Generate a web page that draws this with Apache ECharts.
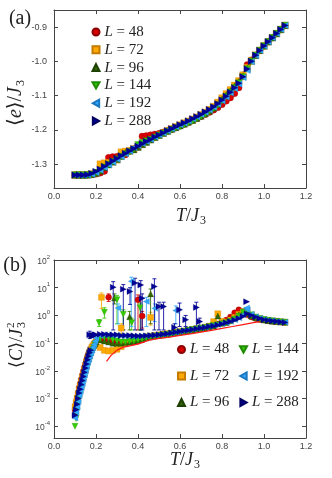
<!DOCTYPE html>
<html>
<head>
<meta charset="utf-8">
<script src="https://cdn.jsdelivr.net/npm/echarts@6/dist/echarts.min.js"></script>
<style>
html, body { margin: 0; padding: 0; background: #fff; }
#chart { width: 332px; height: 478px; }
</style>
</head>
<body>
<div id="chart"></div>
<script>
// temperatures T/J3 shared by every system size
const temps = [0.10,0.12,0.14,0.16,0.18,0.20,0.22,0.24,0.26,0.28,0.30,0.32,0.34,0.36,0.38,0.40,0.42,0.44,0.46,0.48,0.50,
  0.52,0.54,0.56,0.58,0.60,0.62,0.64,0.66,0.68,0.70,0.72,0.74,0.76,0.78,0.80,0.82,0.84,0.86,0.88,0.90,
  0.92,0.94,0.96,0.98,1.00,1.02,1.04,1.06,1.08,1.10];
// extra low-temperature points of (b), where C rises steeply
const lowTemps = [0.105,0.11,0.115,0.125,0.13,0.135,0.145,0.15,0.155,0.165,0.17,0.175,0.185,0.19,0.195];

const sizes = ['L = 48', 'L = 72', 'L = 96', 'L = 144', 'L = 192', 'L = 288'];

// (a) energy per site <e>/J3
const energy48 = [-1.332,-1.332,-1.332,-1.332,-1.331,-1.329,-1.326,-1.321,-1.281,-1.279,-1.278,-1.276,-1.273,-1.262,-1.256,-1.250,
  -1.219,-1.217,-1.215,-1.213,-1.211,-1.207,-1.203,-1.199,-1.194,-1.189,-1.184,-1.179,-1.173,-1.167,-1.161,-1.155,-1.149,
  -1.142,-1.135,-1.126,-1.116,-1.106,-1.094,-1.077,-1.040,-1.010,-0.996,-0.982,-0.968,-0.955,-0.943,-0.931,-0.919,-0.907,-0.895];
const energy72 = [-1.332,-1.332,-1.332,-1.331,-1.329,-1.326,-1.300,-1.297,-1.296,-1.293,-1.288,-1.265,-1.263,-1.261,-1.256,-1.249,
  -1.242,-1.235,-1.229,-1.222,-1.215,-1.209,-1.203,-1.197,-1.191,-1.186,-1.180,-1.175,-1.169,-1.163,-1.156,-1.149,-1.141,
  -1.132,-1.120,-1.107,-1.095,-1.083,-1.070,-1.057,-1.040,-1.018,-0.998,-0.982,-0.968,-0.955,-0.943,-0.931,-0.919,-0.907,-0.895];
const energy96 = [-1.332,-1.332,-1.332,-1.332,-1.330,-1.327,-1.320,-1.310,-1.302,-1.294,-1.286,-1.277,-1.266,-1.262,-1.258,-1.251,
  -1.243,-1.236,-1.229,-1.222,-1.216,-1.210,-1.204,-1.198,-1.193,-1.188,-1.183,-1.177,-1.172,-1.166,-1.160,-1.153,-1.145,
  -1.136,-1.125,-1.111,-1.098,-1.086,-1.073,-1.060,-1.043,-1.020,-0.999,-0.982,-0.968,-0.955,-0.943,-0.931,-0.919,-0.907,-0.895];
const energy144 = [-1.332,-1.332,-1.332,-1.332,-1.330,-1.325,-1.318,-1.309,-1.301,-1.293,-1.285,-1.278,-1.271,-1.264,-1.257,-1.244,
  -1.238,-1.233,-1.228,-1.222,-1.216,-1.210,-1.205,-1.200,-1.195,-1.190,-1.185,-1.180,-1.174,-1.168,-1.161,-1.154,-1.146,
  -1.138,-1.128,-1.116,-1.103,-1.090,-1.077,-1.063,-1.046,-1.022,-1.000,-0.982,-0.968,-0.955,-0.943,-0.931,-0.919,-0.907,-0.895];
const energy192 = [-1.333,-1.333,-1.333,-1.332,-1.330,-1.325,-1.318,-1.310,-1.302,-1.294,-1.286,-1.278,-1.270,-1.262,-1.252,-1.246,
  -1.240,-1.234,-1.228,-1.221,-1.215,-1.209,-1.203,-1.197,-1.191,-1.185,-1.180,-1.174,-1.168,-1.162,-1.155,-1.149,-1.142,
  -1.134,-1.125,-1.115,-1.104,-1.092,-1.079,-1.066,-1.047,-1.026,-1.001,-0.983,-0.968,-0.955,-0.943,-0.931,-0.919,-0.907,-0.895];
const energy288 = [-1.332,-1.332,-1.332,-1.331,-1.328,-1.322,-1.315,-1.307,-1.299,-1.291,-1.284,-1.276,-1.269,-1.262,-1.255,-1.248,
  -1.241,-1.234,-1.228,-1.221,-1.215,-1.209,-1.203,-1.197,-1.191,-1.185,-1.180,-1.174,-1.168,-1.162,-1.155,-1.148,-1.141,
  -1.133,-1.124,-1.113,-1.102,-1.090,-1.077,-1.064,-1.045,-1.022,-1.000,-0.982,-0.968,-0.955,-0.943,-0.931,-0.919,-0.907,-0.895];

// (b) specific heat <C>/J3^2 on temps
const heat48 = [4.0e-4,2.5e-3,1.0e-2,0.032,0.07,0.12,0.14,0.13,0.12,0.11,0.10,0.10,0.10,0.105,0.11,0.12,0.13,0.15,0.165,0.18,0.19,
  0.20,0.21,0.22,0.235,0.25,0.265,0.28,0.30,0.32,0.34,0.37,0.40,0.44,0.49,0.56,0.68,0.88,1.25,1.60,1.35,
  1.05,0.88,0.78,0.72,0.68,0.65,0.62,0.60,0.58,0.57];
const heat72 = [5.0e-4,2.2e-3,8.0e-3,0.03,0.07,0.11,0.07,0.055,0.052,0.055,0.06,0.075,0.095,0.115,0.13,0.145,0.16,0.17,0.18,0.19,0.20,
  0.21,0.22,0.23,0.245,0.26,0.275,0.29,0.31,0.33,0.35,0.375,0.41,0.60,1.15,0.62,0.58,0.68,0.85,1.10,1.35,
  1.25,1.00,0.85,0.76,0.70,0.66,0.63,0.61,0.59,0.57];
const heat96 = [3.2e-4,1.6e-3,6.0e-3,0.022,0.06,0.11,0.13,0.12,0.11,0.10,0.10,0.10,0.105,0.11,0.12,0.13,0.14,0.155,0.17,0.18,0.19,
  0.20,0.21,0.225,0.24,0.255,0.27,0.285,0.30,0.32,0.34,0.36,0.39,0.42,0.95,0.52,0.56,0.64,0.78,1.05,1.40,
  1.20,0.95,0.82,0.74,0.69,0.65,0.62,0.60,0.58,0.57];
const heat144 = [1.0e-4,1.0e-3,4.0e-3,0.016,0.05,0.10,0.15,0.16,0.15,0.13,0.12,0.11,0.11,0.115,0.12,0.13,0.14,0.155,0.17,0.18,0.19,
  0.20,0.21,0.225,0.24,0.255,0.27,0.29,0.31,0.33,0.35,0.37,0.40,0.43,0.46,0.50,0.55,0.62,0.74,0.95,1.30,
  1.50,1.05,0.88,0.78,0.71,0.67,0.64,0.61,0.59,0.57];
const heat192 = [2.0e-4,1.3e-3,5.0e-3,0.02,0.055,0.15,0.19,0.20,0.20,0.19,0.19,0.185,0.18,0.18,0.175,0.175,0.18,0.185,0.19,0.195,0.20,
  0.21,0.22,0.235,0.25,0.265,0.28,0.30,0.32,0.34,0.36,0.38,0.41,0.44,0.47,0.51,0.56,0.62,0.70,0.82,1.05,
  1.60,1.10,0.90,0.79,0.72,0.67,0.64,0.61,0.59,0.57];
const heat288 = [2.5e-4,1.6e-3,6.3e-3,0.025,0.18,0.20,0.21,0.21,0.20,0.20,0.20,0.19,0.19,0.19,0.185,0.18,0.18,0.185,0.19,0.195,0.20,
  0.21,0.22,0.235,0.25,0.265,0.28,0.295,0.31,0.33,0.35,0.37,0.40,0.42,0.45,0.49,0.54,0.60,0.68,0.78,0.92,
  1.15,1.02,0.88,0.78,0.70,0.66,0.63,0.61,0.58,0.56];

// (b) specific heat on lowTemps
const lowHeat48 = [6.3e-4,1.0e-3,1.6e-3,3.5e-3,5.0e-3,7.1e-3,0.0135,0.018,0.024,0.040,0.050,0.060,0.081,0.093,0.107];
const lowHeat72 = [7.2e-4,1.05e-3,1.5e-3,3.0e-3,4.2e-3,5.8e-3,0.0112,0.0155,0.022,0.038,0.047,0.058,0.079,0.089,0.10];
const lowHeat96 = [4.8e-4,7.1e-4,1.07e-3,2.2e-3,3.2e-3,4.4e-3,8.3e-3,0.0115,0.016,0.028,0.036,0.047,0.071,0.083,0.095];
const lowHeat144 = [1.9e-4,3.5e-4,6.3e-4,1.4e-3,2.0e-3,2.8e-3,5.6e-3,7.9e-3,0.0112,0.0214,0.028,0.038,0.060,0.071,0.085];
const lowHeat192 = [3.2e-4,5.0e-4,7.9e-4,1.8e-3,2.5e-3,3.5e-3,7.1e-3,0.010,0.014,0.026,0.034,0.044,0.071,0.089,0.117];
const lowHeat288 = [4.0e-4,6.3e-4,1.0e-3,2.2e-3,3.2e-3,4.5e-3,8.9e-3,0.0126,0.0178,0.034,0.045,0.056,0.19,0.19,0.20];

// extra (b) points with error bars: [T, C, low, high]
const spikes48 = [[0.26,4.5,3.2,6.0],[0.40,3.7,0.3,5.5],[0.42,0.95,0.35,1.4]];
const spikes72 = [[0.226,4.5,1.8,6.5],[0.32,0.35,0.2,0.5],[0.46,0.85,0.45,1.3]];
const spikes96 = [[0.288,4.3,2.6,6.0],[0.36,0.9,0.3,1.4],[0.46,6.0,0.5,9.0]];
const spikes144 = [[0.215,0.55,0.4,0.7],[0.24,1.3,0.8,1.9],[0.30,3.7,0.5,5.2],[0.33,1.1,0.3,1.6],[0.37,0.55,0.3,0.8],[0.41,1.9,0.3,2.8]];
const spikes192 = [[0.305,1.85,0.5,2.6],[0.368,17,0.4,24],[0.44,3.2,0.4,4.5],[0.48,1.8,0.6,2.6],[0.58,1.5,0.5,2.2],[0.917,1.86,1.86,1.86]];
const spikes288 = [[0.17,0.2,0.15,0.27],[0.282,10.5,0.3,16.6],[0.33,8.9,0.3,13],[0.362,7.3,2.5,10],[0.386,14.7,0.3,22],
  [0.413,12.6,0.3,18],[0.42,4.2,0.3,6],[0.478,11,0.3,21],[0.50,2.1,0.3,3.0],[0.522,2.1,0.3,3.0],[0.574,0.37,0.25,0.5],
  [0.598,1.6,0.4,2.8],[0.627,0.7,0.4,1.0],[0.678,1.95,0.4,3.0],[0.694,0.6,0.4,0.8],[0.917,3.15,3.15,3.15]];

// red reference curve in (b)
const redT = [0.25,0.27,0.30,0.33,0.36,0.40,0.45,0.50,0.55,0.60,0.65,0.70,0.75,0.80,0.85,0.90,0.95,0.98];
const redC = [0.022,0.035,0.056,0.072,0.080,0.092,0.128,0.148,0.165,0.19,0.215,0.25,0.29,0.34,0.40,0.47,0.55,0.60];

const energy = [energy48, energy72, energy96, energy144, energy192, energy288];
const heat = [heat48, heat72, heat96, heat144, heat192, heat288];
const lowHeat = [lowHeat48, lowHeat72, lowHeat96, lowHeat144, lowHeat192, lowHeat288];
const spikes = [spikes48, spikes72, spikes96, spikes144, spikes192, spikes288];

const colors = ['#d80000', '#ffaa00', '#336600', '#33cc00', '#33aaff', '#000099'];
const edges = ['#8a0000', '#c47a00', '#1d4000', '#1f8a00', '#1a78c0', '#000060'];
const symbols = ['circle', 'rect', 'triangle', 'path://M0,0L10,0L5,9Z', 'path://M9,0L9,10L0,5Z', 'path://M0,0L0,10L9,5Z'];

const serif = "'Liberation Serif', 'DejaVu Serif', 'DejaVu Sans', serif";
const sans = "'Liberation Sans', Arial, sans-serif";
const frameColor = '#444';

let chart = echarts.init(document.getElementById('chart'));

function xAxisFor(grid, pos) {
  return {
    type: 'value', gridIndex: grid, position: pos, min: 0, max: 1.2, interval: 0.2,
    axisLine: { show: true, onZero: false, lineStyle: { color: frameColor, width: 1 } },
    axisTick: { show: true, inside: true, length: 4, lineStyle: { color: frameColor } },
    axisLabel: { show: pos === 'bottom', margin: 4, fontFamily: sans, fontSize: 9, color: '#444',
      formatter: v => v.toFixed(1) },
    splitLine: { show: false }
  };
}

function yEnergyAxis(pos) {
  return {
    type: 'value', gridIndex: 0, position: pos, min: -1.37, max: -0.85,
    axisLine: { show: true, onZero: false, lineStyle: { color: frameColor, width: 1 } },
    axisTick: { show: true, inside: true, length: 4, lineStyle: { color: frameColor } },
    axisLabel: { show: pos === 'left', margin: 7, fontFamily: sans, fontSize: 9, color: '#444',
      showMinLabel: false, showMaxLabel: false,
      formatter: v => Math.abs(v * 10 - Math.round(v * 10)) < 1e-6 ? v.toFixed(1) : '' },
    splitLine: { show: false }
  };
}

function yHeatAxis(pos) {
  return {
    type: 'log', gridIndex: 1, position: pos, min: 3.8e-5, max: 100, logBase: 10,
    axisLine: { show: true, onZero: false, lineStyle: { color: frameColor, width: 1 } },
    axisTick: { show: true, inside: true, length: 4, lineStyle: { color: frameColor } },
    minorTick: { show: false },
    axisLabel: { show: pos === 'left', margin: 4, color: '#444',
      formatter: v => {
        const p = Math.log10(v);
        const e = Math.round(p);
        if (Math.abs(p - e) > 1e-6) return '';
        return '{b|10}{s|' + e + '}';
      },
      rich: {
        b: { fontFamily: sans, fontSize: 8.5, color: '#444', lineHeight: 12, verticalAlign: 'bottom' },
        s: { fontFamily: sans, fontSize: 6, color: '#444', lineHeight: 5, verticalAlign: 'top' }
      } },
    splitLine: { show: false }
  };
}

const legendText = {
  fontFamily: serif, fontSize: 15, color: '#222', lineHeight: 15,
  rich: {
    i: { fontFamily: serif, fontSize: 15, fontStyle: 'italic', color: '#222', lineHeight: 15 },
    n: { fontFamily: serif, fontSize: 15, color: '#222', lineHeight: 15 }
  }
};
const legendFormat = name => '{i|L}{n| = ' + name.slice(4) + '}';

function legendBox(data, left, top, gap) {
  return { data, orient: 'vertical', left, top, padding: 0, itemWidth: 7, itemHeight: 7, itemGap: gap,
    selectedMode: false, textStyle: legendText, formatter: legendFormat };
}

const series = [];
sizes.forEach((name, i) => {
  series.push({
    type: 'scatter', name, xAxisIndex: 0, yAxisIndex: 0,
    symbol: symbols[i], symbolSize: 6.5,
    itemStyle: { color: colors[i], borderColor: edges[i], borderWidth: 0.3, opacity: 1 },
    data: temps.map((t, k) => [t, energy[i][k]])
  });
});
sizes.forEach((name, i) => {
  series.push({
    type: 'custom', name: 'err ' + name, xAxisIndex: 2, yAxisIndex: 2, clip: true,
    data: spikes[i],
    encode: { x: 0, y: 1 },
    renderItem: (params, api) => {
      const x = api.value(0);
      const hi = api.coord([x, api.value(3)]);
      const lo = api.coord([x, api.value(2)]);
      const st = { stroke: colors[i], lineWidth: 1, opacity: 0.85 };
      return { type: 'group', children: [
        { type: 'line', shape: { x1: hi[0], y1: hi[1], x2: lo[0], y2: lo[1] }, style: st },
        { type: 'line', shape: { x1: hi[0] - 2, y1: hi[1], x2: hi[0] + 2, y2: hi[1] }, style: st },
        { type: 'line', shape: { x1: lo[0] - 2, y1: lo[1], x2: lo[0] + 2, y2: lo[1] }, style: st }
      ] };
    }
  });
  series.push({
    type: 'scatter', name, xAxisIndex: 2, yAxisIndex: 2,
    symbol: symbols[i], symbolSize: 6,
    itemStyle: { color: colors[i], borderColor: edges[i], borderWidth: 0.3, opacity: 1 },
    data: temps.map((t, k) => [t, heat[i][k]])
      .concat(lowTemps.map((t, k) => [t, lowHeat[i][k]]))
      .concat(spikes[i].map(s => [s[0], s[1]]))
  });
});
series.push({
  type: 'line', name: 'reference', xAxisIndex: 2, yAxisIndex: 2, symbol: 'none', z: 5,
  lineStyle: { color: '#ff1a1a', width: 1.2 },
  data: redT.map((t, k) => [t, redC[k]])
});

function subTitle(x, y, rotation, rich, main, sub, sup) {
  const children = [
    { type: 'text', x: 0, y: 0, style: { text: main, rich, textAlign: 'right', verticalAlign: 'middle', fill: '#222' } },
    { type: 'text', x: 1, y: 5, style: { text: sub, font: '12px ' + serif, textAlign: 'left', verticalAlign: 'middle', fill: '#222' } }
  ];
  if (sup) {
    children.push({ type: 'text', x: 1, y: -6, style: { text: sup, font: '11px ' + serif, textAlign: 'left', verticalAlign: 'middle', fill: '#222' } });
  }
  return { type: 'group', x, y, rotation, children };
}

function richFor(size) {
  return {
    u: { fontFamily: serif, fontSize: size, fill: '#222', color: '#222' },
    i: { fontFamily: serif, fontSize: size, fontStyle: 'italic', fill: '#222', color: '#222' }
  };
}

const option = {
  animation: false,
  backgroundColor: '#fff',
  grid: [
    { left: 54, top: 10, width: 252, height: 178 },
    { left: 54, top: 260, width: 252, height: 178 }
  ],
  xAxis: [xAxisFor(0, 'bottom'), xAxisFor(0, 'top'), xAxisFor(1, 'bottom'), xAxisFor(1, 'top')],
  yAxis: [yEnergyAxis('left'), yEnergyAxis('right'), yHeatAxis('left'), yHeatAxis('right')],
  legend: [
    legendBox(sizes, 91.5, 24.5, 2.8),
    legendBox(sizes.slice(0, 3), 177, 342, 11.5),
    legendBox(sizes.slice(3), 239, 342, 11.5)
  ],
  graphic: [
    { type: 'text', x: 20, y: 19, style: { text: '(a)', font: '20px ' + serif, textAlign: 'center', verticalAlign: 'middle', fill: '#222' } },
    { type: 'text', x: 15, y: 266, style: { text: '(b)', font: '20px ' + serif, textAlign: 'center', verticalAlign: 'middle', fill: '#222' } },
    subTitle(16, 87, Math.PI / 2, richFor(20), '{u|⟨}{i|e}{u|⟩/}{i|J}', '3'),
    subTitle(17, 329, Math.PI / 2, richFor(18), '{u|⟨}{i|C}{u|⟩/}{i|J}', '3', '2'),
    subTitle(199, 216, 0, richFor(18), '{i|T}{u|/}{i|J}', '3'),
    subTitle(193, 460, 0, richFor(18), '{i|T}{u|/}{i|J}', '3')
  ],
  series
};

chart.setOption(option);
window.onresize = () => {
  chart.resize();
};
</script>
</body>
</html>
